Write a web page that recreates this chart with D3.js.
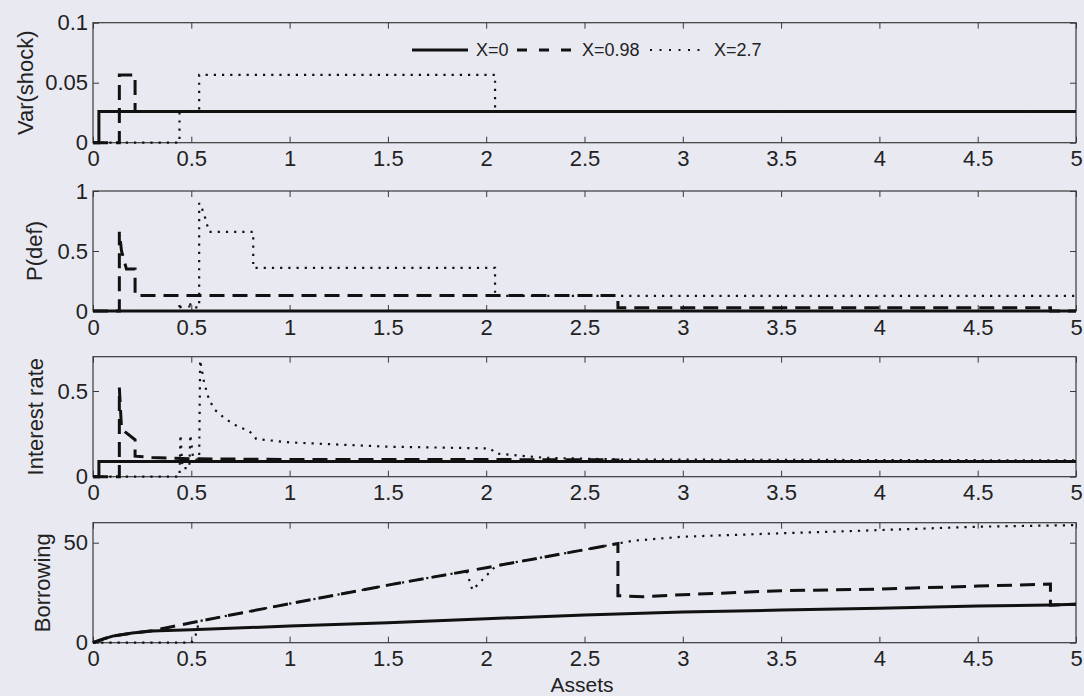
<!DOCTYPE html>
<html>
<head>
<meta charset="utf-8">
<script src="https://cdn.jsdelivr.net/npm/d3@7"></script>
<style>
  body { margin: 0; background: #e9e9f2; }
  svg { display: block; }
  text { font-family: "Liberation Sans", Arial, sans-serif; fill: #222; }
</style>
</head>
<body>
<div id="svg-container"></div>
<script>
// data (x = assets)
const xTicks = [0, 0.5, 1, 1.5, 2, 2.5, 3, 3.5, 4, 4.5, 5];
const seriesNames = ['X=0', 'X=0.98', 'X=2.7'];

// Var(shock)
const varX0 = [[0,0],[0.03,0],[0.03,0.026],[5,0.026]];
const varX098 = [[0,0],[0.134,0],[0.134,0.0565],[0.214,0.0565],[0.214,0.026],[5,0.026]];
const varX27 = [[0,0],[0.44,0],[0.44,0.026],[0.54,0.026],[0.54,0.0565],[2.045,0.0565],[2.045,0.026],[5,0.026]];
const varTicks = [0, 0.05, 0.1];

// P(def)
const pdefX0 = [[0,0],[5,0]];
const pdefX098 = [[0,0],[0.134,0],[0.134,0.66],[0.145,0.5],[0.17,0.35],[0.214,0.35],[0.214,0.13],
  [2.67,0.13],[2.67,0.028],[4.87,0.028],[4.87,0],[5,0]];
const pdefX27 = [[0,0],[0.44,0],[0.44,0.07],[0.45,0],[0.49,0],[0.49,0.08],[0.5,0.03],[0.54,0.03],
  [0.54,0.9],[0.555,0.85],[0.57,0.78],[0.59,0.66],[0.815,0.66],[0.815,0.36],[2.045,0.36],[2.045,0.126],[5,0.126]];
const pdefTicks = [0, 0.5, 1];

// Interest rate
const rateX0 = [[0,0],[0.03,0],[0.03,0.088],[5,0.088]];
const rateX098 = [[0,0],[0.134,0],[0.134,0.52],[0.145,0.28],[0.165,0.26],[0.214,0.215],[0.214,0.12],
  [0.3,0.112],[0.5,0.105],[1,0.1],[2,0.1],[2.67,0.098],[2.67,0.088],[5,0.088]];
const rateX27 = [[0,0],[0.44,0],[0.445,0.245],[0.455,0.05],[0.49,0.05],[0.495,0.245],[0.51,0.1],[0.54,0.1],
  [0.545,0.68],[0.565,0.55],[0.59,0.45],[0.62,0.39],[0.67,0.34],[0.74,0.29],[0.79,0.27],[0.82,0.24],
  [0.83,0.22],[1,0.2],[1.5,0.175],[2.02,0.165],[2.05,0.135],[2.3,0.11],[2.7,0.1],[5,0.095]];
const rateTicks = [0, 0.5];

// Borrowing
const borX0 = [[0,0],[0.05,1.8],[0.1,3.3],[0.2,4.8],[0.3,5.8],[0.5,6.5],[1,8.3],[1.5,10],[2,12],
  [2.5,13.8],[3,15.4],[3.5,16.3],[4,17.2],[4.5,18.3],[4.87,18.8],[5,19.2]];
const borX098 = [[0,0],[0.05,1.8],[0.1,3.3],[0.2,4.8],[0.3,6],[0.4,8],[0.5,10],[1,19.5],[1.5,28.8],
  [2,37.5],[2.5,46.5],[2.67,49.6],[2.67,23.5],[2.8,23],[3,24],[3.5,26],[4,26.8],[4.5,28.3],[4.87,29.3],
  [4.87,18.8],[5,19.2]];
const borX27 = [[0,0],[0.5,0],[0.52,3],[0.54,10.8],[1,19.5],[1.5,28.8],[1.9,35.8],[1.93,26.3],[2.05,38.5],
  [2.5,46.5],[2.67,49.6],[2.75,51],[3,53],[3.5,54.7],[4,56.3],[4.5,58],[5,58.8]];
const borTicks = [0, 50];

// dimensions
const dim = { width: 1084, height: 696, left: 93, right: 1076, panelHeight: 120 };

const panels = [
  { label: 'Var(shock)', top: 22.7, domain: [0, 0.1], ticks: varTicks, lines: [varX0, varX098, varX27], labelX: 25 },
  { label: 'P(def)', top: 191, domain: [0, 1], ticks: pdefTicks, lines: [pdefX0, pdefX098, pdefX27], labelX: 34 },
  { label: 'Interest rate', top: 356.7, domain: [0, 0.7], ticks: rateTicks, lines: [rateX0, rateX098, rateX27], labelX: 35 },
  { label: 'Borrowing', top: 522.7, domain: [0, 60], ticks: borTicks, lines: [borX0, borX098, borX27], labelX: 42 }
];

// line styles: solid, dashed, dotted
const styles = [
  { width: 3, dash: null },
  { width: 3, dash: '15,8' },
  { width: 2.2, dash: '2.2,6' }
];

const svg = d3.select('#svg-container')
  .append('svg')
    .attr('width', dim.width)
    .attr('height', dim.height);

svg.append('rect')
  .attr('width', dim.width)
  .attr('height', dim.height)
  .attr('fill', '#e9e9f2');

const xScale = d3.scaleLinear()
  .domain([0, 5])
  .range([dim.left, dim.right]);

panels.forEach(p => {
  const yScale = d3.scaleLinear()
    .domain(p.domain)
    .range([p.top + dim.panelHeight, p.top]);

  const g = svg.append('g');

  // axes, MATLAB style ticks pointing inward on all four sides
  const bottom = g.append('g')
    .attr('transform', `translate(0, ${p.top + dim.panelHeight})`)
    .call(d3.axisBottom(xScale).tickValues(xTicks).tickSizeInner(-6).tickSizeOuter(0)
      .tickPadding(8).tickFormat(d => String(d)));
  const top = g.append('g')
    .attr('transform', `translate(0, ${p.top})`)
    .call(d3.axisTop(xScale).tickValues(xTicks).tickSizeInner(-6).tickSizeOuter(0).tickFormat(''));
  const left = g.append('g')
    .attr('transform', `translate(${dim.left}, 0)`)
    .call(d3.axisLeft(yScale).tickValues(p.ticks).tickSizeInner(-6).tickSizeOuter(0)
      .tickPadding(5).tickFormat(d => String(d)));
  const right = g.append('g')
    .attr('transform', `translate(${dim.right}, 0)`)
    .call(d3.axisRight(yScale).tickValues(p.ticks).tickSizeInner(-6).tickSizeOuter(0).tickFormat(''));

  [bottom, top, left, right].forEach(a => {
    a.select('.domain').remove();
    a.selectAll('line').attr('stroke', '#3a3a3a');
    a.selectAll('text').attr('font-size', 22).attr('fill', '#222')
      .attr('font-family', '"Liberation Sans", Arial, sans-serif');
  });

  // box
  g.append('rect')
    .attr('x', dim.left)
    .attr('y', p.top)
    .attr('width', dim.right - dim.left)
    .attr('height', dim.panelHeight)
    .attr('fill', 'none')
    .attr('stroke', '#3a3a3a')
    .attr('stroke-width', 1.2);

  // y label
  g.append('text')
    .attr('transform', `translate(${p.labelX}, ${p.top + dim.panelHeight / 2}) rotate(-90)`)
    .attr('text-anchor', 'middle')
    .attr('dominant-baseline', 'central')
    .attr('font-size', 22)
    .text(p.label);

  // lines
  const line = d3.line()
    .x(d => xScale(d[0]))
    .y(d => yScale(d[1]));

  g.append('g')
    .selectAll('path')
    .data(p.lines)
    .join('path')
      .attr('d', line)
      .attr('fill', 'none')
      .attr('stroke', '#111')
      .attr('stroke-width', (d, i) => styles[i].width)
      .attr('stroke-dasharray', (d, i) => styles[i].dash);
});

// x label
svg.append('text')
  .attr('x', 582)
  .attr('y', 691.5)
  .attr('text-anchor', 'middle')
  .attr('font-size', 21)
  .text('Assets');

// legend (no box)
const legendItems = [
  { x1: 412, x2: 468, tx: 476, dash: null, width: 3 },
  { x1: 517, x2: 573, tx: 582, dash: '10,12', width: 3 },
  { x1: 650, x2: 704, tx: 714, dash: '2,7.5', width: 2.2 }
];
const legend = svg.append('g');
legendItems.forEach((d, i) => {
  legend.append('line')
    .attr('x1', d.x1).attr('x2', d.x2)
    .attr('y1', 50).attr('y2', 50)
    .attr('stroke', '#111')
    .attr('stroke-width', d.width)
    .attr('stroke-dasharray', d.dash);
  legend.append('text')
    .attr('x', d.tx)
    .attr('y', 50)
    .attr('dy', '0.35em')
    .attr('font-size', 18)
    .text(seriesNames[i]);
});
</script>
</body>
</html>
